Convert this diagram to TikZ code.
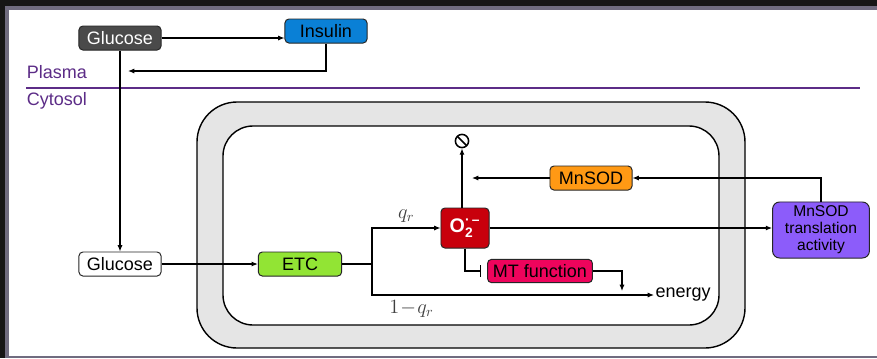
\documentclass[tikz,border=0pt]{standalone}
\usepackage{amsmath}
\usepackage{fontspec}
\setmainfont{Liberation Sans}
\usetikzlibrary{arrows.meta, positioning}

\definecolor{frameDark}{RGB}{22,22,22}
\definecolor{frameGray}{RGB}{112,108,128}
\definecolor{cellGray}{RGB}{229,229,229}
\definecolor{plasmaPurple}{RGB}{92,44,135}
\definecolor{glucDark}{RGB}{74,74,74}
\definecolor{insulinBlue}{RGB}{10,128,214}
\definecolor{etcGreen}{RGB}{146,228,52}
\definecolor{superRed}{RGB}{200,0,12}
\definecolor{sodOrange}{RGB}{255,153,20}
\definecolor{mtPink}{RGB}{238,4,92}
\definecolor{transViolet}{RGB}{140,92,250}

\begin{document}
\begin{tikzpicture}[
      x=0.025cm, y=-0.025cm,
      font=\fontsize{12.8}{15}\selectfont,
      box/.style={draw=black!85, line width=0.7pt, rounded corners=2.8pt, align=center,
                  minimum width=2.05cm, minimum height=0.6cm, inner sep=1pt},
      arr/.style={-{Latex[length=4.5pt,width=3.6pt]}, line width=0.8pt},
      inh/.style={-{Bar[width=8pt]}, line width=0.8pt, shorten >=0.15cm},
      conn/.style={line width=0.8pt},
      lbl/.style={text=black!75, font=\fontsize{14}{16}\selectfont}
    ]
    % frame and background
    \fill[frameDark] (0,0) rectangle (877,358);
    \fill[frameGray] (5,6) rectangle (877,358);
    \fill[white] (9,10) rectangle (877,356);
    \useasboundingbox (0,0) rectangle (877,358);

    % cell (mitochondrion)
    \draw[line width=1pt, fill=cellGray, rounded corners=1cm] (197,102) rectangle (745,348);
    \draw[line width=1pt, fill=white, rounded corners=0.75cm] (223,126) rectangle (719,325);

    % plasma / cytosol border
    \draw[plasmaPurple, line width=0.8pt] (26,88) -- (860,88);
    \node[anchor=west, text=plasmaPurple] (plasma)  at (22,72)  {Plasma};
    \node[anchor=west, text=plasmaPurple] (cytosol) at (22,101) {Cytosol};

    \node[box, fill=glucDark, text=white] (glucP)   at (120,38) {Glucose};
    \node[box, fill=insulinBlue]          (insulin) at (326,31) {Insulin};
    \node[box, fill=white]                (glucC)   at (120,264) {Glucose};
    \node[box, fill=etcGreen, minimum width=2.08cm] (etc) at (300,264) {ETC};
    \node[box, fill=superRed, text=white, minimum width=1.2cm, minimum height=1cm,
          font=\bfseries\fontsize{14}{16}\selectfont] (o2) at (465,228)
      {O$_{\text{2}}^{\text{·\,–}}$};
    \node[box, fill=sodOrange] (mnsod) at (591,178) {MnSOD};
    \node[box, fill=mtPink, minimum width=2.62cm, minimum height=0.58cm] (mtfun) at (540,271)
      {MT function};
    \node[box, fill=transViolet, minimum width=2.42cm, minimum height=1.4cm, rounded corners=5pt,
          font=\fontsize{11.1}{12.1}\selectfont] (trans) at (821,230)
      {MnSOD\\translation\\activity};
    \node[circle, draw, line width=1.1pt, minimum size=0.33cm, inner sep=0pt,
          path picture={\draw[line width=1.1pt] (path picture bounding box.north west)
                        -- (path picture bounding box.south east);}] (sink) at (462,141) {};
    \node[anchor=west, inner sep=1pt] (energy) at (654,295) {energy};

    \coordinate (plasmaIn) at (128,71);
    \coordinate (fork)     at (372,264);
    \coordinate (sodEnd)   at (472,178);
    \coordinate (mtDrop)   at (622,291);

    \draw[arr] (glucP.east) -- (glucP.east -| insulin.west);
    \draw[arr] (insulin.south) |- (plasmaIn);
    \draw[arr] (glucP.south) -- (glucC.north);
    \draw[arr] (glucC.east) -- (etc.west);
    \draw[conn] (etc.east) -- (fork);
    \draw[arr] (fork) |- (o2.west) node[lbl, pos=0.75, above] {$q_r$};
    \draw[arr] (fork) |- (energy.west) node[lbl, pos=0.57, below] {$1\!-\!q_r$};
    \draw[arr] (o2.north -| sink) -- (sink.south);
    \draw[arr] (mnsod.west) -- (sodEnd);
    \draw[arr] (trans.north) |- (mnsod.east);
    \draw[arr] (o2.east) -- (o2.east -| trans.west);
    \draw[inh] (o2.south) |- (mtfun.west);
    \draw[arr] (mtfun.east) -| (mtDrop);
  \end{tikzpicture}
\end{document}
